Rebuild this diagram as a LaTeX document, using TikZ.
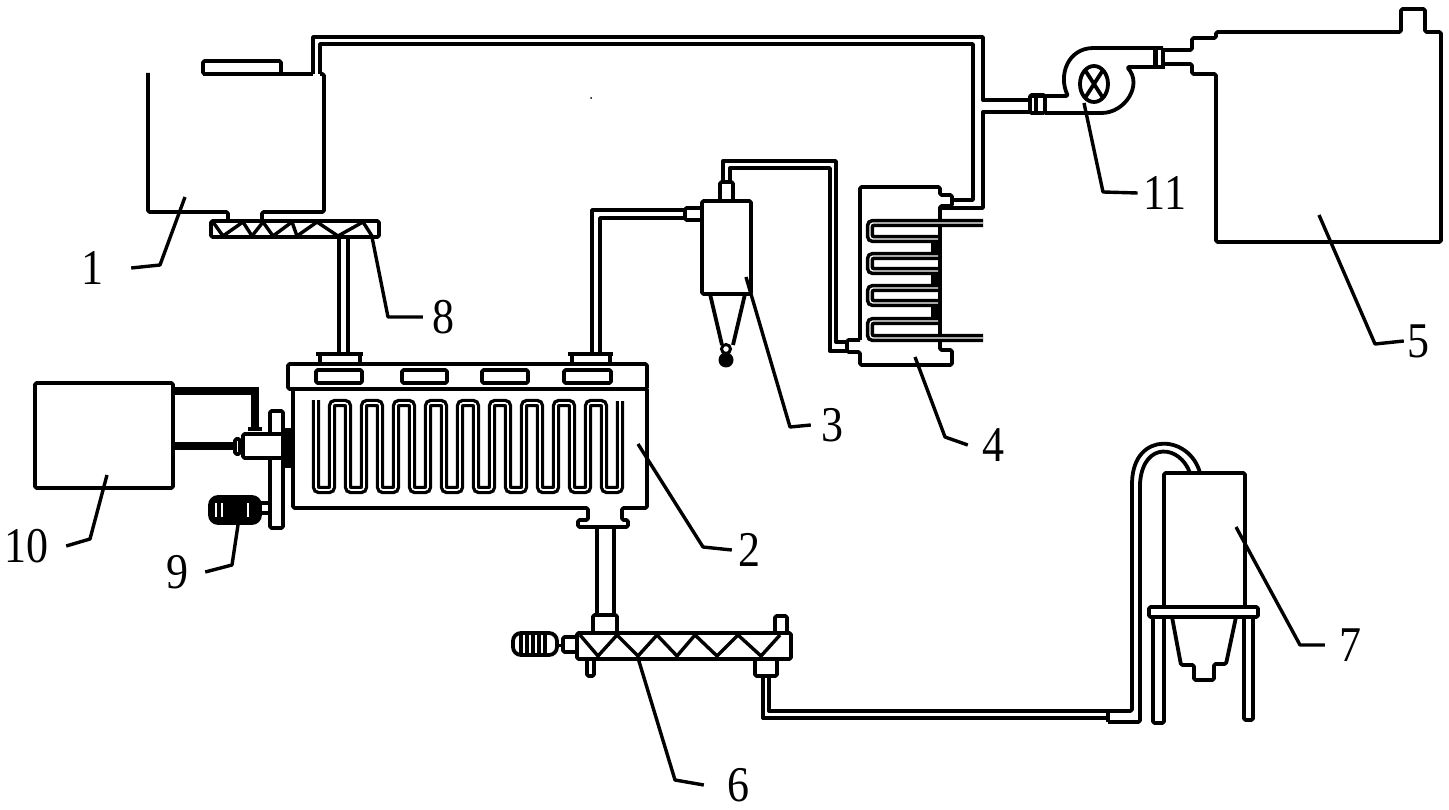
\documentclass[tikz,border=0pt]{standalone}
\usepackage{fontspec}
\setmainfont[FakeStretch=0.88]{Liberation Serif}
\tikzset{
	wall/.style={line width=3.8pt,line join=round,rounded corners=1.5pt},
	pipe/.style={line width=3.4pt,line join=round},
	hotpipe/.style={line width=8pt},
	leader/.style={line width=3.4pt,line join=round},
	num/.style={font=\fontsize{50}{50}\selectfont,inner sep=0pt},
	coil/.style={line width=3.3pt,double=white,double distance=1.6pt,rounded corners=3pt},
	tube/.style={line width=3.6pt,double=white,double distance=1.2pt,rounded corners=3pt},
}
\begin{document}
\begin{tikzpicture}[x=1pt,y=-1pt]
	\useasboundingbox (0,0) rectangle (1449,810);
	%tank 1 and its top pipes
	\draw[wall] (148,73)--(148,212)--(228,212)--(228,221);
	\draw[wall] (262,221)--(262,212)--(324,212)--(324,74)--(320,74);
	\draw[wall] (203,61) rectangle (281,74);
	\draw[wall] (203,74)--(313,74);
	\draw[pipe] (313,74)--(313,37)--(983,37)--(983,100)--(1030,100);	%outer
	\draw[pipe] (320,74)--(320,44)--(973,44)--(973,200)--(953,200);		%inner
	\draw[pipe] (1030,112)--(983,112)--(983,208)--(940,208);
	%feed screw 8
	\draw[wall] (211,221) rectangle (379,237);
	\draw[pipe] (213,222)--(223,236)--(243,222)--(252,236)--(263,222)--(273,236)--(292,222)--(297,236)--(317,222)--(338,236)--(363,222)--(372,236);
	\draw[wall] (339,237)--(339,353);
	\draw[wall] (348,237)--(348,353);
	%reactor 2
	\draw[wall] (288,364) rectangle (647,389);
	\draw[wall] (293,389)--(293,508)--(588,508)--(588,520)--(578,520)--(578,527)--(628,527)--(628,520)--(622,520)--(622,508)--(647,508)--(647,389);
	\draw[wall] (316,354)--(363,354);
	\draw[wall] (320,354)--(320,364);
	\draw[wall] (360,354)--(360,364);
	\draw[wall] (568,354)--(613,354);
	\draw[wall] (572,354)--(572,364);
	\draw[wall] (610,354)--(610,364);
	\foreach \sx/\ex in {316/362,402/447,482/528,564/611}
		\draw[wall] (\sx,370) rectangle (\ex,383);		%slots
	\draw[coil] (316,400)
		\foreach \k in {0,...,8} {--({316+32*\k},490)--({332+32*\k},490)--({332+32*\k},403)--({348+32*\k},403)}
		--(604,490)--(620,490)--(620,401);
	%drive at the left
	\draw[wall] (35,383) rectangle (173,488);
	\draw[hotpipe] (173,391)--(255,391)--(255,428);
	\draw[hotpipe] (173,446)--(234,446);
	\draw[wall] (248,429)--(262,429);
	\draw[wall] (235,439) rectangle (240,454);
	\draw[wall,fill=white] (270,411) rectangle (283,528);
	\draw[wall,fill=white] (243,434) rectangle (283,458);
	\draw[line width=7pt] (288,428)--(288,468);
	\draw[wall] (260,503)--(270,503);
	\draw[wall] (260,513)--(270,513);
	\draw[wall,fill=black,rounded corners=8pt] (210,497) rectangle (260,523);	%motor 9
	\foreach \mx in {216,222,248}
		\draw[white,line width=1.6pt] (\mx,503)--(\mx,517);
	%pipe to cyclone 3
	\draw[pipe] (592,354)--(592,210)--(685,210);
	\draw[pipe] (600,354)--(600,218)--(685,218);
	\draw[wall] (702,208)--(685,208)--(685,220)--(702,220);
	\draw[wall] (702,201) rectangle (751,294);
	\draw[wall] (720,201)--(720,182)--(733,182)--(733,201);
	\draw[wall] (710,294)--(722,345);
	\draw[wall] (745,294)--(733,345);
	\fill (726,360) circle (7.5);
	\draw[line width=3pt] (726,349) circle (4.5);
	%pipe to condenser 4
	\draw[pipe] (723,182)--(723,161)--(836,161)--(836,342)--(847,342);
	\draw[pipe] (730,182)--(730,168)--(830,168)--(830,351)--(847,351);
	%condenser 4
	\draw[wall] (860,340)--(860,187)--(940,187)--(940,195)--(952,195)--(952,206)--(940,206)--(940,350)--(952,350)--(952,365)--(860,365)--(860,352)--(847,352)--(847,340)--(860,340);
	\foreach \sy/\ey in {239/256,271/288,303/321}
		\draw[line width=8pt] (935,\sy)--(935,\ey);
	\draw[tube] (983,223)--(870,223)--(870,239)--(938,239);
	\draw[tube] (938,256)--(870,256)--(870,271)--(938,271);
	\draw[tube] (938,288)--(870,288)--(870,303)--(938,303);
	\draw[tube] (938,321)--(870,321)--(870,338)--(983,338);
	%fan 11
	\draw[wall] (1030,95) rectangle (1045,113);
	\draw[wall] (1036,95)--(1036,113);
	\draw[wall] (1030,96)--(1068,96) .. controls (1058,75) and (1068,48) .. (1095,48)--(1163,48);
	\draw[wall] (1045,113)--(1100,113) .. controls (1125,113) and (1143,85) .. (1127,67)--(1163,67);
	\draw[wall] (1094,84) ellipse (14 and 18);
	\draw[wall] (1085,70)--(1103,98);
	\draw[wall] (1103,70)--(1085,98);
	\draw[line width=5pt] (1155,48)--(1155,69);
	\draw[line width=4pt] (1163,48)--(1163,69);
	%tank 5
	\draw[wall] (1165,50)--(1192,50)--(1192,38)--(1216,38)--(1216,32)--(1401,32)--(1401,9)--(1425,9)--(1425,32)--(1441,32)--(1441,242)--(1216,242)--(1216,74)--(1192,74)--(1192,64)--(1165,64);
	%bottom screw 6
	\draw[wall] (597,527)--(597,615);
	\draw[wall] (614,527)--(614,615);
	\draw[wall] (593,633)--(593,615)--(617,615)--(617,633);
	\draw[wall] (577,633) rectangle (791,659);
	\draw[pipe] (580,635)--(598,656)--(617,635)--(638,656)--(657,635)--(677,656)--(695,635)--(717,656)--(738,635)--(761,656)--(780,635);
	\draw[wall] (587,659)--(587,676)--(594,676)--(594,659);
	\draw[wall] (775,633)--(775,616)--(787,616)--(787,633);
	\draw[wall] (755,659)--(755,676)--(777,676)--(777,659);
	\draw[pipe] (763,676)--(763,718)--(1110,718);
	\draw[pipe] (769,676)--(769,711)--(1110,711);
	\draw[wall] (563,637) rectangle (577,652);
	\draw[wall,rounded corners=8pt] (513,633) rectangle (557,655);	%motor
	\foreach \mx in {521,527,533,539,545}
		\draw[line width=3.4pt] (\mx,634)--(\mx,654);
	\draw[line width=3pt] (557,645)--(563,645);
	%silo 7
	\draw[wall] (1108,711)--(1132,711)--(1132,483) .. controls (1134,430) and (1190,435) .. (1200,473);
	\draw[wall] (1108,722)--(1140,722)--(1140,483) .. controls (1144,441) and (1180,445) .. (1190,473);
	\draw[wall] (1108,711)--(1108,722);
	\draw[wall] (1164,607)--(1164,473)--(1245,473)--(1245,607);
	\draw[wall] (1149,607) rectangle (1258,617);
	\draw[wall] (1153,617)--(1153,723)--(1164,723)--(1164,617);
	\draw[wall] (1244,617)--(1244,720)--(1253,720)--(1253,617);
	\draw[wall] (1172,617)--(1181,665)--(1194,665)--(1194,680)--(1214,680)--(1214,664)--(1226,664)--(1236,617);
	\fill (591,98) circle (1);
	%numbers with their leaders
	\node[num] (numA) at (92,268) {1};
	\draw[leader] ([xshift=28]numA.east)--(160,265)--(185,197);
	\node[num] (numB) at (749,550) {2};
	\draw[leader] ([xshift=-6]numB.west)--(703,547)--(638,444);
	\node[num] (numC) at (832,425) {3};
	\draw[leader] ([xshift=-10]numC.west)--(790,427)--(746,277);
	\node[num] (numD) at (993,445) {4};
	\draw[leader] ([xshift=-14]numD.west)--(945,437)--(915,357);
	\node[num] (numE) at (1418,341) {5};
	\draw[leader] ([xshift=-3]numE.west)--(1375,344)--(1319,215);
	\node[num] (numF) at (738,785) {6};
	\draw[leader] ([xshift=-23]numF.west)--(675,780)--(638,658);
	\node[num] (numG) at (1350,645) {7};
	\draw[leader] ([xshift=-14]numG.west)--(1300,645)--(1236,527);
	\node[num] (numH) at (443,317) {8};
	\draw[leader] ([xshift=-9]numH.west)--(388,317)--(372,237);
	\node[num] (numI) at (177,572) {9};
	\draw[leader] ([xshift=17]numI.east)--(232,565)--(238,525);
	\node[num] (numJ) at (27,546) {10};
	\draw[leader] ([xshift=17]numJ.east)--(90,539)--(107,475);
	\node[num] (numK) at (1165,193) {11};
	\draw[leader] ([xshift=-6]numK.west)--(1103,192)--(1084,103);
\end{tikzpicture}
\end{document}
